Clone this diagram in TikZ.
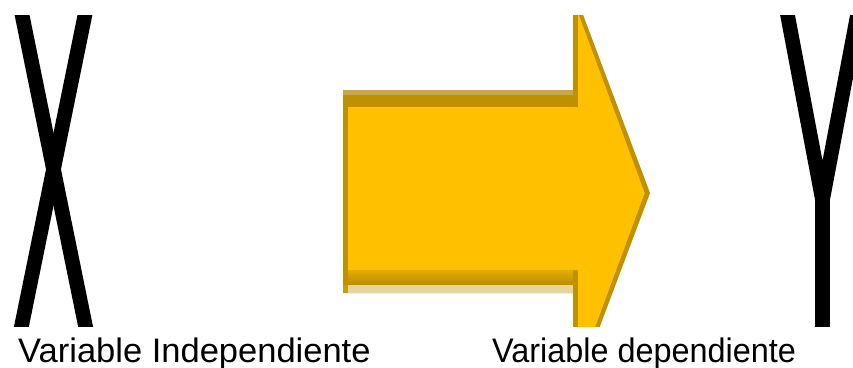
\documentclass[tikz,border=0pt]{standalone}
\usepackage{fontspec}
\setmainfont{Liberation Sans}
\definecolor{gold}{HTML}{FFC000}
\definecolor{goldborder}{HTML}{BF9000}
\definecolor{goldlight}{HTML}{CBA64A}
\definecolor{goldfade}{HTML}{E6D39E}
\definecolor{goldbandtop}{HTML}{E2AC00}
\definecolor{goldbandbot}{HTML}{BD8C00}
\tikzset{
  letterstroke/.style={line width=14.6pt, black, line cap=butt},
  caption/.style={anchor=base west, inner sep=0pt, font=\fontsize{34}{40}\selectfont}
}
\begin{document}
\begin{tikzpicture}[x=1pt,y=-1pt]
\useasboundingbox (0,0) rectangle (853,367);
\fill[white] (0,0) rectangle (853,367);
\begin{scope}
  \clip (0,15) rectangle (853,326);
  % X
  \draw[letterstroke] (19,0) -- (88.5,326+15);
  \draw[letterstroke] (88,0) -- (18.5,326+15);
  % Y
  \draw[letterstroke, line join=miter] (784.7,0) -- (822.5,200) -- (860.3,0);
  \draw[letterstroke] (822.5,190) -- (822.5,340);
  % arrow: outer border
  \fill[goldborder] (343,90) -- (573,90) -- (573,-12) -- (650,193) -- (573,398) -- (573,293) -- (343,293) -- cycle;
  % inner fill
  \fill[gold] (348,107) -- (578,107) -- (578,12.7) -- (644.7,193) -- (578,373.3) -- (578,270) -- (348,270) -- cycle;
  % top light band
  \fill[goldlight] (343,90) rectangle (573,95);
  % bottom shaded band
  \shade[top color=goldbandtop, bottom color=goldbandbot] (348,270) rectangle (573,285);
  \fill[goldfade] (343,285) rectangle (573,293);
  \fill[goldborder!85!goldfade] (343,285) rectangle (348,293);
\end{scope}
\node[caption, xscale=1.015] (indep) at (18,362) {Variable Independiente};
\node[caption, xscale=0.953] (dep) at (492,362) {Variable dependiente};
\end{tikzpicture}
\end{document}
